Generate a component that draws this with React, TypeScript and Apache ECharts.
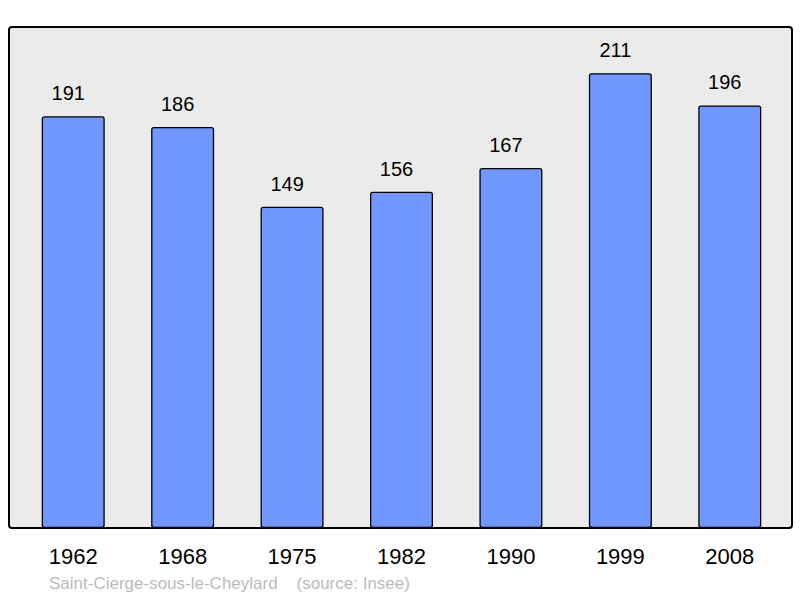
import React, { useEffect, useRef } from "react";
import * as echarts from "echarts";

const years = ["1962", "1968", "1975", "1982", "1990", "1999", "2008"];
const population = [191, 186, 149, 156, 167, 211, 196];
const sourceText = "Saint-Cierge-sous-le-Cheylard    (source: Insee)";

export default function App() {
  const ref = useRef<HTMLDivElement>(null);
  useEffect(() => {
    if (!ref.current) return;
    const chart = echarts.init(ref.current, undefined, { renderer: "svg" });
    chart.setOption({
      animation: false,
      backgroundColor: "#ffffff",
      textStyle: { fontFamily: "Liberation Sans, Arial, sans-serif" },
      graphic: [
        {
          type: "rect",
          z: -10,
          shape: { x: 9, y: 27, width: 783, height: 501, r: 3 },
          style: { fill: "#ebebeb", stroke: "#000", lineWidth: 2 },
        },
        {
          type: "text",
          left: 49,
          top: 575,
          style: {
            text: sourceText,
            fill: "#bbbbbb",
            font: "17px 'Liberation Sans', Arial, sans-serif",
          },
        },
      ],
      grid: { left: 18.5, right: 15.5, top: 27, bottom: 70 },
      xAxis: {
        type: "category",
        data: years,
        axisLine: { show: false },
        axisTick: { show: false },
        axisLabel: {
          color: "#000",
          fontSize: 22,
          margin: 17,
          fontFamily: "Liberation Sans, Arial, sans-serif",
        },
      },
      yAxis: {
        type: "value",
        min: 0,
        max: 232.4,
        show: false,
        splitLine: { show: false },
      },
      series: [
        {
          type: "bar",
          data: population,
          barWidth: 63,
          itemStyle: {
            color: "#7096ff",
            borderColor: "#000",
            borderWidth: 1.3,
            borderRadius: 2,
          },
          label: {
            show: true,
            position: "top",
            distance: 13,
            offset: [-5, 0],
            color: "#000",
            fontSize: 20,
            fontFamily: "Liberation Sans, Arial, sans-serif",
          },
        },
      ],
    });
    return () => chart.dispose();
  }, []);
  return <div ref={ref} style={{ width: 800, height: 598, position: "absolute", left: 0, top: 0 }} />;
}
